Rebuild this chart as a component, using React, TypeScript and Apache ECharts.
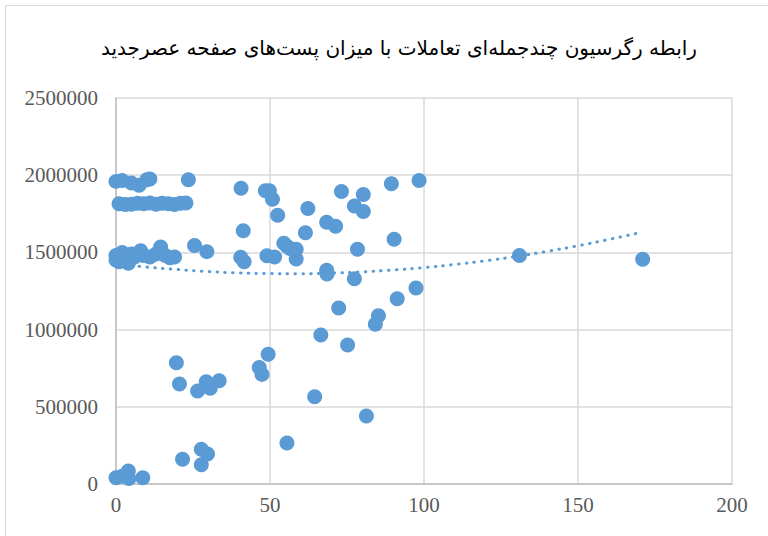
import React, { useEffect, useRef } from "react";
import * as echarts from "echarts";

const TITLE = "رابطه رگرسیون چندجمله‌ای تعاملات با میزان پست‌های صفحه عصرجدید";

// scatter points: posts (x) vs engagement (y)
const pointsX: number[] = [
  0, 2, 5, 7.5, 10, 11, 23.5,
  1, 3, 5, 7, 9, 11, 13, 15, 17, 19, 21, 22.7,
  0, 0, 1, 2, 3, 4, 5, 6, 8, 9, 11, 13, 14.5, 16, 17.5, 19,
  25.5, 29.5,
  40.6, 48.5, 49.8, 50.8, 52.5,
  41.3, 40.5, 41.6,
  49, 51.5, 54.5, 55.5, 56.5, 58.5, 58.5,
  61.5, 62.3, 68.4, 71.3,
  73.2, 80.3, 77.4, 80.3, 89.4, 98.4,
  90.3, 78.4, 68.4, 68.5, 77.4,
  97.4, 91.3, 72.3, 85.2, 84.2, 66.5, 75.2,
  49.4, 46.5, 47.4,
  19.6, 20.6, 26.5, 29.3, 30.6, 33.5,
  64.5, 81.3, 55.5,
  21.6, 27.7, 29.7, 27.7,
  0, 2, 4, 4.2, 8.7,
  131, 171,
];
const pointsY: number[] = [
  1960000, 1965000, 1950000, 1935000, 1970000, 1975000, 1970000,
  1815000, 1810000, 1812000, 1818000, 1815000, 1820000, 1812000, 1818000, 1815000, 1810000, 1818000, 1820000,
  1450000, 1480000, 1440000, 1500000, 1460000, 1430000, 1490000, 1470000, 1510000, 1480000, 1470000, 1490000, 1535000, 1480000, 1465000, 1470000,
  1545000, 1505000,
  1915000, 1900000, 1900000, 1845000, 1740000,
  1640000, 1468000, 1440000,
  1478000, 1470000, 1560000, 1540000, 1525000, 1520000, 1458000,
  1627000, 1785000, 1695000, 1670000,
  1895000, 1875000, 1800000, 1765000, 1945000, 1965000,
  1585000, 1520000, 1385000, 1360000, 1330000,
  1270000, 1200000, 1140000, 1090000, 1035000, 965000, 900000,
  840000, 755000, 710000,
  786000, 648000, 602000, 662000, 620000, 669000,
  565000, 440000, 265000,
  160000, 225000, 195000, 125000,
  40000, 50000, 85000, 35000, 40000,
  1480000, 1455000,
];

// polynomial trendline, values
const trendX: number[] = [0, 10, 20, 30, 40, 50, 60, 70, 80, 90, 100, 110, 120, 130, 140, 150, 160, 171];
const trendY: number[] = [
  1426000, 1405000, 1389000, 1376000, 1367000, 1363000, 1362000, 1366000, 1374000,
  1386000, 1402000, 1422000, 1446000, 1474000, 1507000, 1543000, 1584000, 1632000,
];

const xTicks = { min: 0, max: 200, interval: 50 };
const yTicks = { min: 0, max: 2500000, interval: 500000 };

export default function App() {
  const ref = useRef<HTMLDivElement>(null);
  useEffect(() => {
    document.body.style.margin = "0";
    if (!ref.current) return;
    const chart = echarts.init(ref.current, undefined, { renderer: "svg" });
    const scatter = pointsX.map((x, i) => [x, pointsY[i]]);
    const trend = trendX.map((x, i) => [x, trendY[i]]);
    const color = "#5B9BD5";
    const labelFont = "'Liberation Serif', 'Times New Roman', serif";
    chart.setOption({
      animation: false,
      backgroundColor: "#ffffff",
      graphic: [
        {
          type: "rect",
          shape: { x: 5.5, y: 5.5, width: 800, height: 600 },
          style: { fill: "none", stroke: "#D9D9D9", lineWidth: 1 },
          silent: true,
        },
      ],
      title: {
        text: TITLE,
        left: 96,
        top: 33,
        textStyle: {
          fontFamily: "'DejaVu Serif', 'DejaVu Sans', serif",
          fontSize: 20,
          fontWeight: "normal",
          color: "#000000",
        },
      },
      grid: { left: 116, right: 36, top: 98, bottom: 52 },
      xAxis: {
        type: "value",
        min: xTicks.min,
        max: xTicks.max,
        interval: xTicks.interval,
        axisLine: { show: true, onZero: false, lineStyle: { color: "#BFBFBF", width: 1.5 } },
        axisTick: { show: false },
        splitLine: { show: true, lineStyle: { color: "#D9D9D9", width: 1.5 } },
        axisLabel: { color: "#595959", fontFamily: labelFont, fontSize: 21, margin: 10 },
      },
      yAxis: {
        type: "value",
        min: yTicks.min,
        max: yTicks.max,
        interval: yTicks.interval,
        axisLine: { show: true, onZero: false, lineStyle: { color: "#BFBFBF", width: 1.5 } },
        axisTick: { show: false },
        splitLine: { show: true, lineStyle: { color: "#D9D9D9", width: 1.5 } },
        axisLabel: {
          color: "#595959",
          fontFamily: labelFont,
          fontSize: 21,
          margin: 18,
          formatter: (v: number) => String(v),
        },
      },
      series: [
        {
          type: "scatter",
          data: scatter,
          symbol: "circle",
          symbolSize: 15,
          itemStyle: { color, opacity: 1 },
          z: 2,
        },
        {
          type: "line",
          data: trend,
          smooth: true,
          showSymbol: false,
          symbol: "none",
          lineStyle: { color, width: 3, type: [0.5, 7.3], cap: "round" },
          z: 3,
        },
      ],
    });
    return () => chart.dispose();
  }, []);
  return <div ref={ref} style={{ width: 768, height: 536 }} />;
}
